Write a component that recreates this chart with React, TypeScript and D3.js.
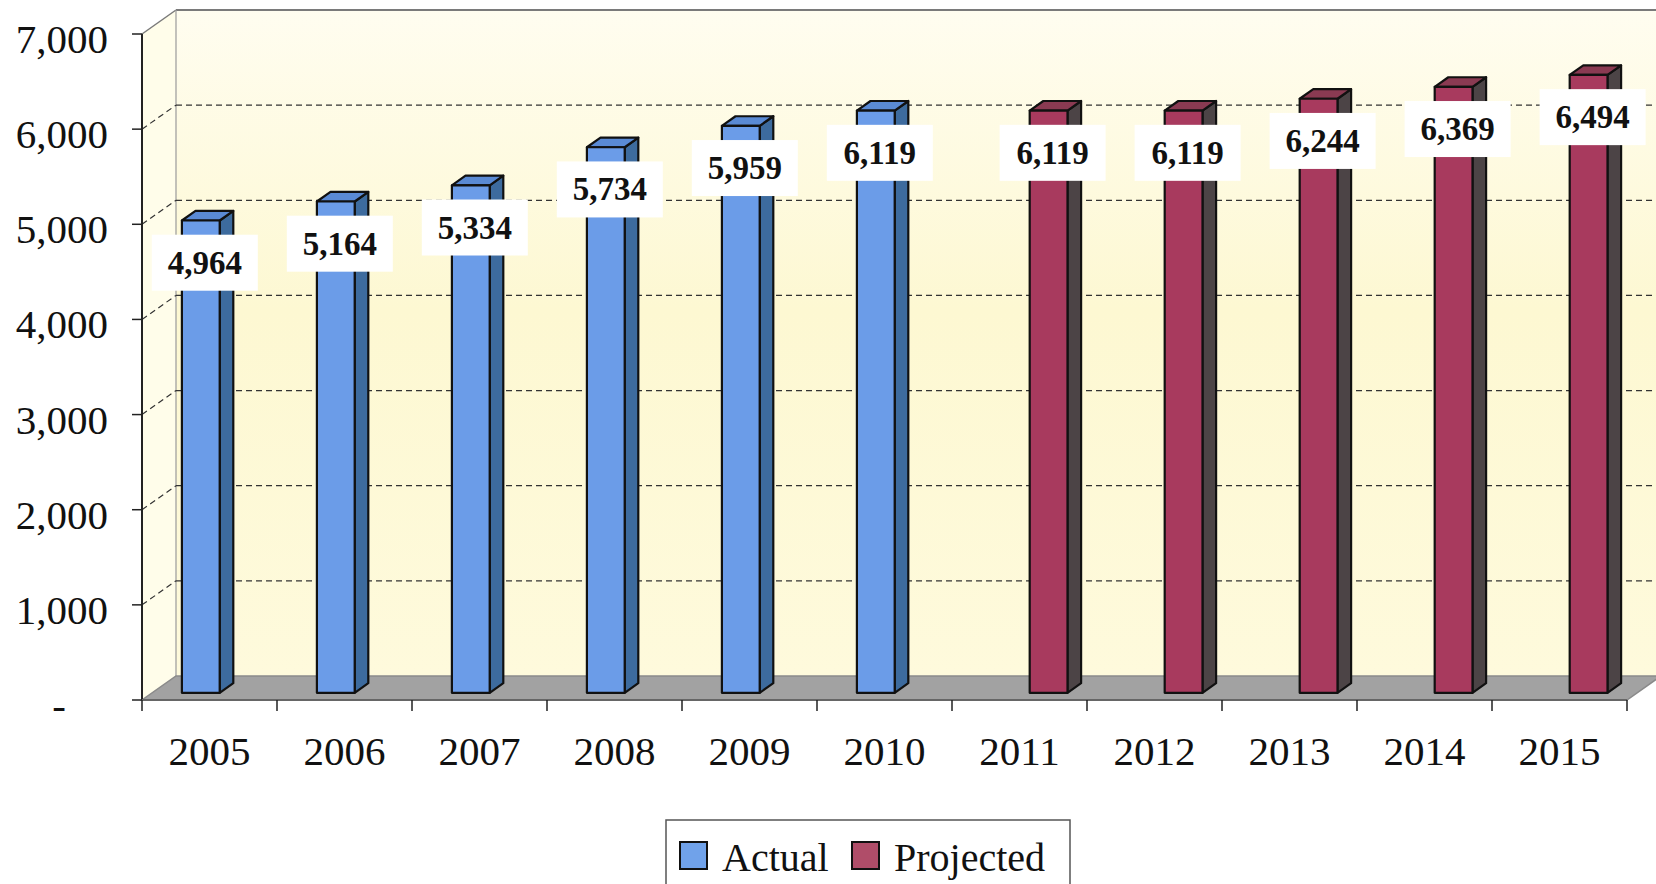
import * as d3 from 'd3'

const years = ['2005', '2006', '2007', '2008', '2009', '2010', '2011', '2012', '2013', '2014', '2015']
const actual: (number | null)[] = [4964, 5164, 5334, 5734, 5959, 6119, null, null, null, null, null]
const projected: (number | null)[] = [null, null, null, null, null, null, 6119, 6119, 6244, 6369, 6494]
const seriesNames = ['Actual', 'Projected']
const yTicks = [0, 1000, 2000, 3000, 4000, 5000, 6000, 7000]

const W = 1656
const H = 884
const left = 142
const right = 1627
const top = 34
const bottom = 700
const depth = { dx: 34, dy: -24 }
const barFront = 0.3
const barBack = 0.7

const colors: Record<string, { front: string; side: string; top: string; legend: string }> = {
  Actual: { front: '#6b9ce8', side: '#3d6b9e', top: '#5a8ad4', legend: '#70a2ea' },
  Projected: { front: '#a83a5e', side: '#4c4446', top: '#8a3a52', legend: '#b04d69' },
}

const font = '"Liberation Serif", "Times New Roman", serif'

export default function App() {
  const x0 = d3.scaleBand<string>().domain(years).range([left, right]).padding(0)
  const bw = x0.bandwidth() * 0.28
  const x1 = d3
    .scaleBand<string>()
    .domain(seriesNames)
    .range([(x0.bandwidth() - 2 * bw) / 2, (x0.bandwidth() + 2 * bw) / 2])
  const y = d3.scaleLinear().domain([0, 7000]).range([bottom, top])
  const fmt = d3.format(',')

  const fdx = depth.dx * barFront
  const fdy = depth.dy * barFront
  const ddx = depth.dx * (barBack - barFront)
  const ddy = depth.dy * (barBack - barFront)

  const series = [
    { name: 'Actual', values: actual },
    { name: 'Projected', values: projected },
  ]

  const bars = series.flatMap((s) =>
    s.values
      .map((v, i) => ({ name: s.name, year: years[i], v }))
      .filter((d) => d.v !== null) as { name: string; year: string; v: number }[],
  )

  const backX = left + depth.dx
  const gridTicks = yTicks.filter((t) => t > 0 && t < 7000)
  const boundaries = [...years.map((yr) => x0(yr)!), right]

  return (
    <svg
      width={W}
      height={H}
      viewBox={`0 0 ${W} ${H}`}
      style={{ position: 'absolute', left: 0, top: 0, background: '#fff' }}
    >
      <defs>
        <linearGradient id="wall" x1="0" y1="0" x2="0" y2="1">
          <stop offset="0" stopColor="#fffdf0" />
          <stop offset="0.45" stopColor="#fdf8d2" />
          <stop offset="1" stopColor="#fefadc" />
        </linearGradient>
      </defs>

      {/* back wall */}
      <rect
        x={backX}
        y={y(7000) + depth.dy}
        width={W - backX + 20}
        height={y(0) - y(7000)}
        fill="url(#wall)"
      />
      {/* side wall */}
      <polygon
        points={[
          [left, y(7000)],
          [backX, y(7000) + depth.dy],
          [backX, y(0) + depth.dy],
          [left, y(0)],
        ].join(' ')}
        fill="#fffdea"
      />
      <line x1={backX} x2={W + 10} y1={y(7000) + depth.dy} y2={y(7000) + depth.dy} stroke="#7a7a7a" strokeWidth={2} />
      <line x1={left} x2={backX} y1={y(7000)} y2={y(7000) + depth.dy} stroke="#7a7a7a" strokeWidth={1.5} />
      <line x1={backX} x2={backX} y1={y(7000) + depth.dy} y2={y(0) + depth.dy} stroke="#9a9a9a" strokeWidth={1.2} />

      {/* gridlines */}
      {gridTicks.map((t) => (
        <g key={t} stroke="#333" strokeWidth={1.2} strokeDasharray="6,4">
          <line x1={backX} x2={W + 10} y1={y(t) + depth.dy} y2={y(t) + depth.dy} />
          <line x1={left} x2={backX} y1={y(t)} y2={y(t) + depth.dy} />
        </g>
      ))}

      {/* floor */}
      <polygon
        points={[
          [left, y(0)],
          [right, y(0)],
          [right + depth.dx, y(0) + depth.dy],
          [backX, y(0) + depth.dy],
        ].join(' ')}
        fill="#a2a2a2"
        stroke="#8a8a8a"
        strokeWidth={1.5}
      />

      {/* bars */}
      {bars.map((d) => {
        const xl = x0(d.year)! + x1(d.name)! + fdx
        const xr = xl + bw
        const yt = y(d.v) + fdy
        const yb = y(0) + fdy
        const c = colors[d.name]
        return (
          <g key={d.name + d.year} stroke="#111" strokeWidth={2.2} strokeLinejoin="round">
            <polygon
              points={[
                [xr, yt],
                [xr + ddx, yt + ddy],
                [xr + ddx, yb + ddy],
                [xr, yb],
              ].join(' ')}
              fill={c.side}
            />
            <polygon
              points={[
                [xl, yt],
                [xl + ddx, yt + ddy],
                [xr + ddx, yt + ddy],
                [xr, yt],
              ].join(' ')}
              fill={c.top}
            />
            <rect x={xl} y={yt} width={bw} height={yb - yt} fill={c.front} />
          </g>
        )
      })}

      {/* data labels */}
      {bars.map((d) => {
        const cx = x0(d.year)! + x1(d.name)! + fdx + bw / 2 + 4
        const cy = y(d.v) + 35
        return (
          <g key={'l' + d.name + d.year}>
            <rect x={cx - 53} y={cy - 28} width={106} height={56} fill="#fff" />
            <text
              x={cx}
              y={cy + 11}
              textAnchor="middle"
              fontFamily={font}
              fontWeight="bold"
              fontSize={33}
              fill="#111"
            >
              {fmt(d.v)}
            </text>
          </g>
        )
      })}

      {/* y axis */}
      <line x1={left} x2={left} y1={y(7000)} y2={y(0)} stroke="#222" strokeWidth={2} />
      {yTicks.map((t) => (
        <g key={'yt' + t}>
          <line x1={left - 10} x2={left} y1={y(t)} y2={y(t)} stroke="#222" strokeWidth={1.5} />
          <text
            x={t === 0 ? 66 : 108}
            y={y(t) + 19}
            textAnchor="end"
            fontFamily={font}
            fontSize={41}
            fill="#111"
          >
            {t === 0 ? '-' : fmt(t)}
          </text>
        </g>
      ))}

      {/* x axis */}
      <line x1={left} x2={right} y1={y(0)} y2={y(0)} stroke="#666" strokeWidth={2} />
      {boundaries.map((bx, i) => (
        <line key={'xt' + i} x1={bx} x2={bx} y1={y(0)} y2={y(0) + 11} stroke="#222" strokeWidth={1.5} />
      ))}
      {years.map((yr) => (
        <text
          key={'xl' + yr}
          x={x0(yr)! + x0.bandwidth() / 2}
          y={765}
          textAnchor="middle"
          fontFamily={font}
          fontSize={41}
          fill="#111"
        >
          {yr}
        </text>
      ))}

      {/* legend */}
      <rect x={666} y={820} width={404} height={80} fill="#fff" stroke="#555" strokeWidth={1.5} />
      {seriesNames.map((name, i) => {
        const lx = i === 0 ? 680 : 852
        return (
          <g key={'lg' + name}>
            <rect x={lx} y={842} width={27} height={27} fill={colors[name].legend} stroke="#111" strokeWidth={2} />
            <text x={lx + 42} y={871} fontFamily={font} fontSize={40} fill="#111">
              {name}
            </text>
          </g>
        )
      })}
    </svg>
  )
}
